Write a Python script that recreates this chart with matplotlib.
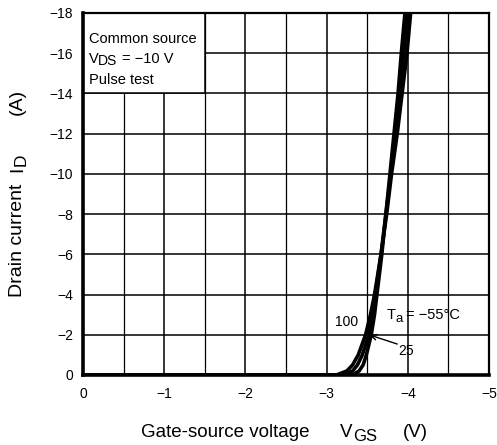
import matplotlib.pyplot as plt
from matplotlib.patches import Rectangle
from matplotlib.ticker import MultipleLocator

plt.rcParams["font.family"] = ["Liberation Sans", "DejaVu Sans"]

# drain current (A) shared by the three curves
id_a = [0, -0.2, -0.5, -1, -2, -3, -4, -6, -8, -10, -12, -14, -16, -18]
# gate-source voltage (V) for each ambient temperature
vgs_100 = [-3.12, -3.25, -3.32, -3.39, -3.48, -3.54, -3.59, -3.67, -3.74, -3.80, -3.87, -3.93, -3.99, -4.035]
vgs_25 = [-3.22, -3.32, -3.38, -3.44, -3.52, -3.56, -3.60, -3.67, -3.73, -3.79, -3.85, -3.90, -3.95, -4.00]
vgs_m55 = [-3.32, -3.40, -3.45, -3.49, -3.55, -3.59, -3.62, -3.68, -3.73, -3.78, -3.83, -3.88, -3.92, -3.965]

x_ticks = [0, -1, -2, -3, -4, -5]
y_ticks = [0, -2, -4, -6, -8, -10, -12, -14, -16, -18]

W, H = 497, 445
fig = plt.figure(figsize=(W / 100, H / 100), dpi=100)
ax = fig.add_axes([83 / W, 1 - 375 / H, 406 / W, 362 / H])


def put(x, y, s, size, **kw):
    # place text at pixel position (from top-left of the picture)
    fig.text(x / W, 1 - y / H, s, fontsize=size, va="baseline", ha="left", **kw)


for v in (vgs_100, vgs_25, vgs_m55):
    ax.plot([0] + v, [0] + id_a, color="black", lw=2.6, zorder=3)

ax.set_xlim(0, -5)
ax.set_ylim(0, -18)
ax.set_xticks(x_ticks)
ax.set_yticks(y_ticks)
ax.xaxis.set_minor_locator(MultipleLocator(0.5))
ax.set_xticklabels([str(t).replace("-", "\u2212") for t in x_ticks])
ax.set_yticklabels([str(t).replace("-", "\u2212") for t in y_ticks])
ax.tick_params(which="both", length=0, labelsize=10)
ax.tick_params(axis="x", pad=9)
ax.tick_params(axis="y", pad=7)
ax.set_axisbelow(True)
ax.grid(which="major", color="black", lw=1.1)
ax.grid(which="minor", axis="x", color="black", lw=0.9)

for side in ("left", "bottom"):
    ax.spines[side].set_linewidth(2.6)
for side in ("top", "right"):
    ax.spines[side].set_linewidth(1.6)

# condition box in the upper left corner
ax.add_patch(Rectangle((0, -14), -1.5, -4, facecolor="white", edgecolor="black", lw=1.1, zorder=1))
put(89, 43, "Common source", 10.5)
put(89, 63, "V", 10.5)
put(98, 65, "DS", 10)
put(122, 63, "= \u221210 V", 10.5)
put(89, 84, "Pulse test", 10.5)

# temperature labels
put(335, 326, "100", 10)
put(387, 319, "T", 10.5)
put(395, 322, "a", 9.5)
put(406, 319, "= \u221255\u00b0C", 10.5)
put(398, 355, "25", 10)
ax.annotate("", xy=(-3.53, -1.99), xytext=(-3.87, -1.54), zorder=4,
            arrowprops=dict(arrowstyle="->", color="black", lw=1.0, shrinkA=0, shrinkB=0))

# axis titles with full-size subscripts
put(141, 437, "Gate-source voltage", 13.5)
put(340, 437, "V", 13.5)
put(353, 441, "GS", 12)
put(403, 437, "(V)", 13.5)

for x, y, s, size in [(22, 297, "Drain current", 14), (22, 172, "I", 14),
                      (26, 166, "D", 12.5), (22, 115, "(A)", 14)]:
    fig.text(x / W, 1 - y / H, s, fontsize=size, rotation=90, rotation_mode="anchor",
             ha="left", va="baseline")

fig.savefig("out.png", dpi=100)
